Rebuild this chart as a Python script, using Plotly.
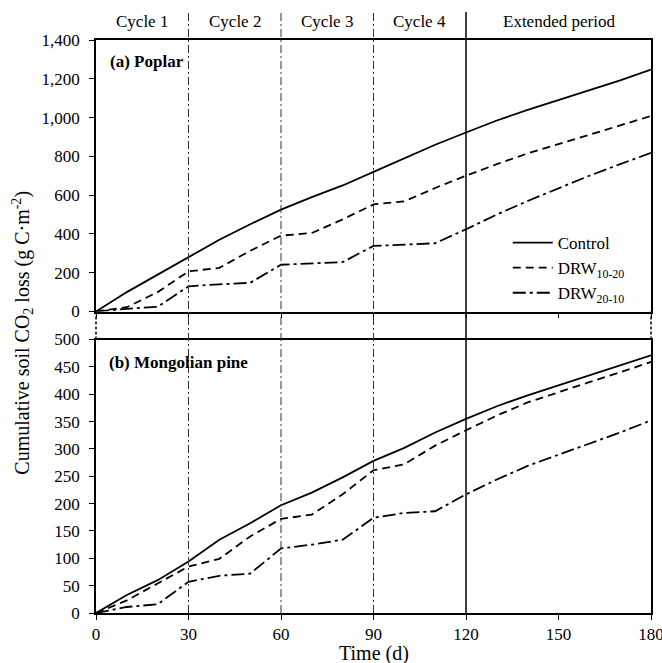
import plotly.graph_objects as go

# ---------------- data ----------------
days = [0, 10, 20, 30, 40, 50, 60, 70, 80, 90, 100, 110, 120, 130, 140, 150, 160, 170, 180]

poplar_control = [0, 100, 190, 280, 370, 450, 525, 590, 650, 720, 790, 860, 923, 985, 1040, 1090, 1140, 1192, 1248]
poplar_drw1020 = [0, 22, 100, 207, 225, 313, 391, 405, 475, 552, 568, 637, 700, 760, 815, 863, 912, 958, 1008]
poplar_drw2010 = [0, 14, 24, 130, 140, 148, 241, 248, 255, 338, 345, 352, 424, 500, 570, 637, 700, 760, 818]

pine_control = [0, 33, 60, 94, 134, 164, 197, 220, 248, 278, 302, 330, 355, 378, 398, 416, 435, 453, 471]
pine_drw1020 = [0, 23, 54, 85, 99, 140, 172, 180, 217, 261, 272, 306, 334, 361, 385, 404, 422, 440, 459]
pine_drw2010 = [0, 11, 16, 57, 68, 72, 118, 125, 134, 174, 183, 186, 217, 244, 269, 289, 309, 330, 352]

series_names = ["Control", "DRW<sub>10-20</sub>", "DRW<sub>20-10</sub>"]
cycle_bounds = [30, 60, 90]
extended_start = 120
period_labels = ["Cycle 1", "Cycle 2", "Cycle 3", "Cycle 4", "Extended period"]
period_centers = [15, 45, 75, 105, 150]

x_ticks = [0, 30, 60, 90, 120, 150, 180]

# ---------------- styling ----------------
FONT = "Liberation Serif"
dashes = ["solid", "8px,5px", "13px,4px,3px,4px"]

fig = go.Figure()

top_sets = [poplar_control, poplar_drw1020, poplar_drw2010]
bot_sets = [pine_control, pine_drw1020, pine_drw2010]
for name, vals, d in zip(series_names, top_sets, dashes):
    fig.add_trace(go.Scatter(x=days, y=vals, mode="lines", name=name,
                             line=dict(color="black", width=1.8, dash=d),
                             xaxis="x", yaxis="y", showlegend=True))
for name, vals, d in zip(series_names, bot_sets, dashes):
    fig.add_trace(go.Scatter(x=days, y=vals, mode="lines", name=name,
                             line=dict(color="black", width=1.8, dash=d),
                             xaxis="x2", yaxis="y2", showlegend=False))

# body margin is removed by the post script, so the figure sits at (0,0)
W, H = 662, 663
ml, mt = 95.5, 40
plot_w, plot_h = 556, 573
mr = W - ml - plot_w
mb = H - mt - plot_h
BOTTOM = 613  # screen y of bottom axis


def py(screen_y):
    return (BOTTOM - screen_y) / plot_h


def px(screen_x):
    return (screen_x - 95.5) / plot_w


top_lo = py(311.5)
bot_hi = py(339.5)

axis_common = dict(showline=True, linecolor="black", linewidth=1.5, mirror=True,
                   ticks="outside", ticklen=5, tickwidth=1.2, tickcolor="black",
                   showgrid=False, zeroline=False,
                   tickfont=dict(family=FONT, size=17, color="black"))

fig.update_layout(
    width=W, height=H,
    margin=dict(l=ml, r=mr, t=mt, b=mb, autoexpand=False),
    paper_bgcolor="white", plot_bgcolor="white",
    font=dict(family=FONT, size=17, color="black"),
    xaxis=dict(range=[0, 180], tickvals=x_ticks, showticklabels=False,
               anchor="y", domain=[0, 1], **axis_common),
    yaxis=dict(range=[0, 1400], dtick=200, tickformat=",", domain=[top_lo, 1],
               anchor="x", ticklabelstandoff=6, **axis_common),
    xaxis2=dict(range=[0, 180], tickvals=x_ticks, matches="x",
                anchor="y2", domain=[0, 1], ticklabeloverflow="allow", **axis_common),
    yaxis2=dict(range=[0, 500], dtick=50, domain=[0, bot_hi],
                anchor="x2", ticklabelstandoff=6, **axis_common),
    legend=dict(x=px(508), y=py(225), xanchor="left", yanchor="top",
                bgcolor="rgba(0,0,0,0)", font=dict(family=FONT, size=17),
                itemwidth=40, tracegroupgap=0),
)

shapes = []
for c in cycle_bounds:
    shapes.append(dict(type="line", xref="x", yref="paper", x0=c, x1=c, y0=0,
                       y1=py(12),
                       line=dict(color="#333333", width=1, dash="8px,3px,2px,3px")))
shapes.append(dict(type="line", xref="x", yref="paper", x0=extended_start, x1=extended_start,
                   y0=0, y1=py(12), line=dict(color="black", width=1.5)))
for xp in [0, 1]:
    shapes.append(dict(type="line", xref="paper", yref="paper", x0=xp, x1=xp,
                       y0=bot_hi, y1=top_lo,
                       line=dict(color="black", width=1.5, dash="3px,2px")))
fig.update_layout(shapes=shapes)

ann = []
for lab, cx in zip(period_labels, period_centers):
    ann.append(dict(text=lab, x=cx, xref="x", y=py(21), yref="paper",
                    showarrow=False, xanchor="center", yanchor="middle",
                    font=dict(family=FONT, size=17, color="black")))
ann.append(dict(text="<b>(a) Poplar</b>", x=px(108), xref="paper",
                y=py(62), yref="paper", showarrow=False,
                xanchor="left", yanchor="middle", font=dict(family=FONT, size=17)))
ann.append(dict(text="<b>(b) Mongolian pine</b>", x=px(107), xref="paper",
                y=py(362), yref="paper", showarrow=False,
                xanchor="left", yanchor="middle", font=dict(family=FONT, size=17)))
ann.append(dict(text="Cumulative soil CO<sub>2</sub> loss (g C·m<sup>-2</sup>)",
                x=px(22), xref="paper",
                y=py(333), yref="paper", textangle=-90,
                showarrow=False, xanchor="center", yanchor="middle",
                font=dict(family=FONT, size=20)))
ann.append(dict(text="Time (d)", x=0.5, xref="paper", y=py(653), yref="paper",
                showarrow=False, xanchor="center", yanchor="middle",
                font=dict(family=FONT, size=20)))
fig.update_layout(annotations=ann)

fig.write_html("out.html",
               config={"displayModeBar": False},
               post_script="document.body.style.margin='0';document.body.style.overflow='hidden';")
